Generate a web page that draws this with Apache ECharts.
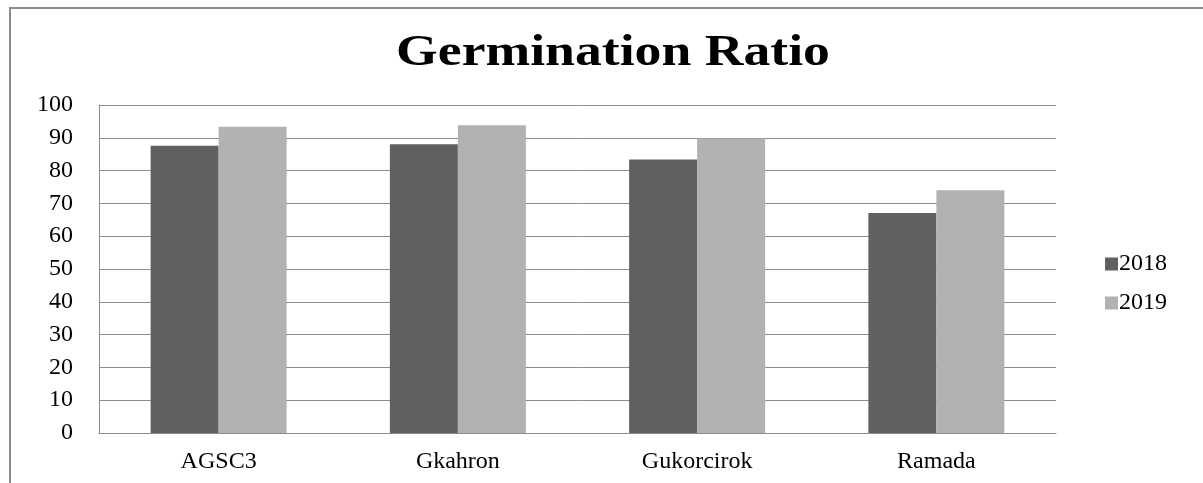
<!DOCTYPE html>
<html>
<head>
<meta charset="utf-8">
<script src="https://cdn.jsdelivr.net/npm/echarts@6/dist/echarts.min.js"></script>
<style>
  html, body { margin: 0; padding: 0; background: #fff; }
  #chart { width: 1203px; height: 483px; }
</style>
</head>
<body>
<div id="chart"></div>
<script>
const categories = ["AGSC3", "Gkahron", "Gukorcirok", "Ramada"];
const values2018 = [87.6, 88.0, 83.4, 67.1];
const values2019 = [93.4, 93.8, 89.8, 74.0];
const yTicks = [0, 10, 20, 30, 40, 50, 60, 70, 80, 90, 100];

const chart = echarts.init(document.getElementById("chart"));
const serif = "Liberation Serif";

chart.setOption({
  backgroundColor: "#fff",
  animation: false,
  graphic: [
    {
      // outer chart frame (only top and left edges are visible)
      type: "rect",
      shape: { x: 10, y: 8, width: 1300, height: 600 },
      style: { fill: "none", stroke: "#8c8c8c", lineWidth: 2 },
      silent: true
    },
    {
      // title, stretched a bit wider like the original
      type: "text",
      x: 613,
      y: 54,
      scaleX: 1.22,
      style: {
        text: "Germination Ratio",
        fontFamily: serif,
        fontWeight: "bold",
        fontSize: 44,
        fill: "#000",
        align: "center",
        verticalAlign: "middle"
      },
      silent: true
    }
  ],
  legend: {
    orient: "vertical",
    left: 1100,
    top: 247,
    itemWidth: 13,
    itemHeight: 13,
    itemGap: 15,
    icon: "rect",
    textStyle: { fontFamily: serif, fontSize: 24, color: "#000", padding: [0, 0, 0, -4] },
    data: ["2018", "2019"]
  },
  grid: { left: 99, right: 147, top: 105, bottom: 50 },
  xAxis: {
    type: "category",
    data: categories,
    axisLine: { lineStyle: { color: "#8c8c8c", width: 1 } },
    axisTick: { show: false },
    axisLabel: { fontFamily: serif, fontSize: 24, color: "#000", margin: 17 }
  },
  yAxis: {
    type: "value",
    min: yTicks[0],
    max: yTicks[yTicks.length - 1],
    interval: 10,
    axisLine: { show: true, lineStyle: { color: "#8c8c8c", width: 1 } },
    axisTick: { show: false },
    axisLabel: { fontFamily: serif, fontSize: 24, color: "#000", margin: 26 },
    splitLine: { lineStyle: { color: "#8c8c8c", width: 1 } }
  },
  series: [
    {
      name: "2018",
      type: "bar",
      data: values2018,
      barWidth: 68,
      barGap: "0%",
      itemStyle: { color: "#606060" }
    },
    {
      name: "2019",
      type: "bar",
      data: values2019,
      barWidth: 68,
      itemStyle: { color: "#b2b2b2" }
    }
  ]
});
</script>
</body>
</html>
